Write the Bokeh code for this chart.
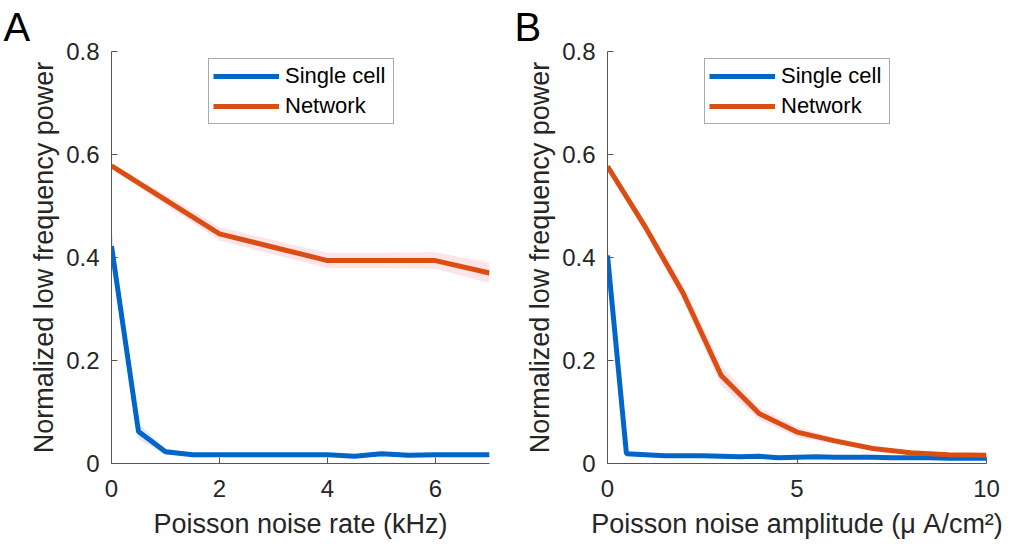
from bokeh.plotting import figure
from bokeh.layouts import row
from bokeh.models import FixedTicker, Range1d, Legend, LegendItem, Title
from bokeh.embed import file_html
from bokeh.resources import INLINE
import numpy as np

# ---------------- data ----------------
# Panel A: Poisson noise rate (kHz)
a_single_x = [0, 0.5, 1, 1.5, 2, 2.5, 3, 3.5, 4, 4.5, 5, 5.5, 6, 6.5, 7]
a_single_y = [0.422, 0.062, 0.023, 0.017, 0.017, 0.017, 0.017, 0.017, 0.017,
              0.014, 0.019, 0.016, 0.017, 0.017, 0.017]
a_single_sd = [0.035, 0.015, 0.006, 0.003, 0.003, 0.003, 0.003, 0.003, 0.003,
               0.003, 0.003, 0.003, 0.003, 0.003, 0.003]
a_net_x = [0, 1, 2, 3, 4, 5, 6, 7]
a_net_y = [0.578, 0.512, 0.446, 0.420, 0.394, 0.394, 0.394, 0.370]
a_net_sd = [0.005, 0.010, 0.013, 0.014, 0.015, 0.015, 0.016, 0.020]

# Panel B: Poisson noise amplitude (uA/cm^2)
b_single_x = [0, 0.5, 1, 1.5, 2, 2.5, 3, 3.5, 4, 4.5, 5, 5.5, 6, 6.5, 7,
              7.5, 8, 8.5, 9, 9.5, 10]
b_single_y = [0.404, 0.019, 0.017, 0.015, 0.015, 0.015, 0.014, 0.013, 0.014,
              0.011, 0.012, 0.013, 0.012, 0.012, 0.012, 0.011, 0.011, 0.011,
              0.010, 0.010, 0.010]
b_single_sd = [0.030, 0.003, 0.003, 0.003, 0.003, 0.003, 0.003, 0.003, 0.003,
               0.003, 0.003, 0.003, 0.003, 0.003, 0.003, 0.003, 0.003, 0.003,
               0.003, 0.003, 0.003]
b_net_x = [0, 1, 2, 3, 4, 5, 6, 7, 8, 9, 10]
b_net_y = [0.577, 0.459, 0.330, 0.171, 0.097, 0.061, 0.044, 0.029, 0.021,
           0.017, 0.016]
b_net_sd = [0.005, 0.012, 0.015, 0.020, 0.012, 0.010, 0.006, 0.004, 0.003,
            0.003, 0.003]

y_ticks = [0, 0.2, 0.4, 0.6, 0.8]
a_x_ticks = [0, 2, 4, 6]
b_x_ticks = [0, 5, 10]

series_labels = ["Single cell", "Network"]
ylabel = "Normalized low frequency power"
a_xlabel = "Poisson noise rate (kHz)"
b_xlabel = "Poisson noise amplitude (\u03bc A/cm\u00b2)"

BLUE = "#0066C8"
ORANGE = "#DA4E14"
FONT = "Liberation Sans"
TXT = "#262626"


def panel(letter, xmax, xticks, xlabel, sx, sy, ssd, nx, ny, nsd,
          width, bl, br, letter_offset):
    p = figure(width=width, height=543, output_backend="svg",
               toolbar_location=None, x_range=Range1d(0, xmax),
               y_range=Range1d(0, 0.8), min_border_left=bl,
               min_border_right=br, min_border_top=51, min_border_bottom=80)
    p.outline_line_color = None
    p.xgrid.visible = False
    p.ygrid.visible = False

    p.add_layout(Title(text=letter, text_font=FONT, text_font_size="40px",
                       text_font_style="normal", text_color="black",
                       align="left", vertical_align="top",
                       offset=letter_offset, standoff=2), "above")

    sy_a = np.array(sy); ssd_a = np.array(ssd)
    ny_a = np.array(ny); nsd_a = np.array(nsd)
    p.varea(x=sx, y1=sy_a - ssd_a, y2=sy_a + ssd_a, fill_color="#E4E4FA")
    p.varea(x=nx, y1=ny_a - nsd_a, y2=ny_a + nsd_a, fill_color="#FDE4E6")
    r1 = p.line(sx, sy, line_color=BLUE, line_width=5)
    r2 = p.line(nx, ny, line_color=ORANGE, line_width=5)

    leg = Legend(items=[LegendItem(label=series_labels[0], renderers=[r1]),
                        LegendItem(label=series_labels[1], renderers=[r2])],
                 location=(97, 339), glyph_width=66, glyph_height=22,
                 label_height=22, label_width=104, label_standoff=6,
                 padding=4, spacing=4,
                 label_text_font=FONT, label_text_font_size="22px",
                 label_text_color="black", border_line_color="#555555",
                 border_line_width=1, background_fill_color="white",
                 margin=0)
    p.add_layout(leg, "center")

    for ax in (p.xaxis[0], p.yaxis[0]):
        ax.axis_line_color = "#555555"
        ax.major_tick_line_color = "#555555"
        ax.major_tick_in = 6
        ax.major_tick_out = 0
        ax.minor_tick_line_color = None
        ax.major_label_text_font = FONT
        ax.major_label_text_font_size = "24px"
        ax.major_label_text_color = TXT
        ax.axis_label_text_font = FONT
        ax.axis_label_text_font_size = "27px"
        ax.axis_label_text_font_style = "normal"
        ax.axis_label_text_color = TXT

    p.xaxis.ticker = FixedTicker(ticks=xticks)
    p.yaxis.ticker = FixedTicker(ticks=y_ticks)
    p.yaxis.major_label_overrides = {0: "0"}
    p.xaxis.axis_label = xlabel
    p.yaxis.axis_label = ylabel
    p.xaxis.major_label_standoff = 16
    p.xaxis.axis_label_standoff = 9
    p.yaxis.major_label_standoff = 12
    p.yaxis.axis_label_standoff = 4
    return p


pA = panel("A", 7, a_x_ticks, a_xlabel, a_single_x, a_single_y, a_single_sd,
           a_net_x, a_net_y, a_net_sd, 509, 111, 20, -108)
pB = panel("B", 10, b_x_ticks, b_xlabel, b_single_x, b_single_y, b_single_sd,
           b_net_x, b_net_y, b_net_sd, 493, 98, 16, -93)

layout = row(pA, pB)
open("out.html", "w").write(file_html(layout, INLINE))
